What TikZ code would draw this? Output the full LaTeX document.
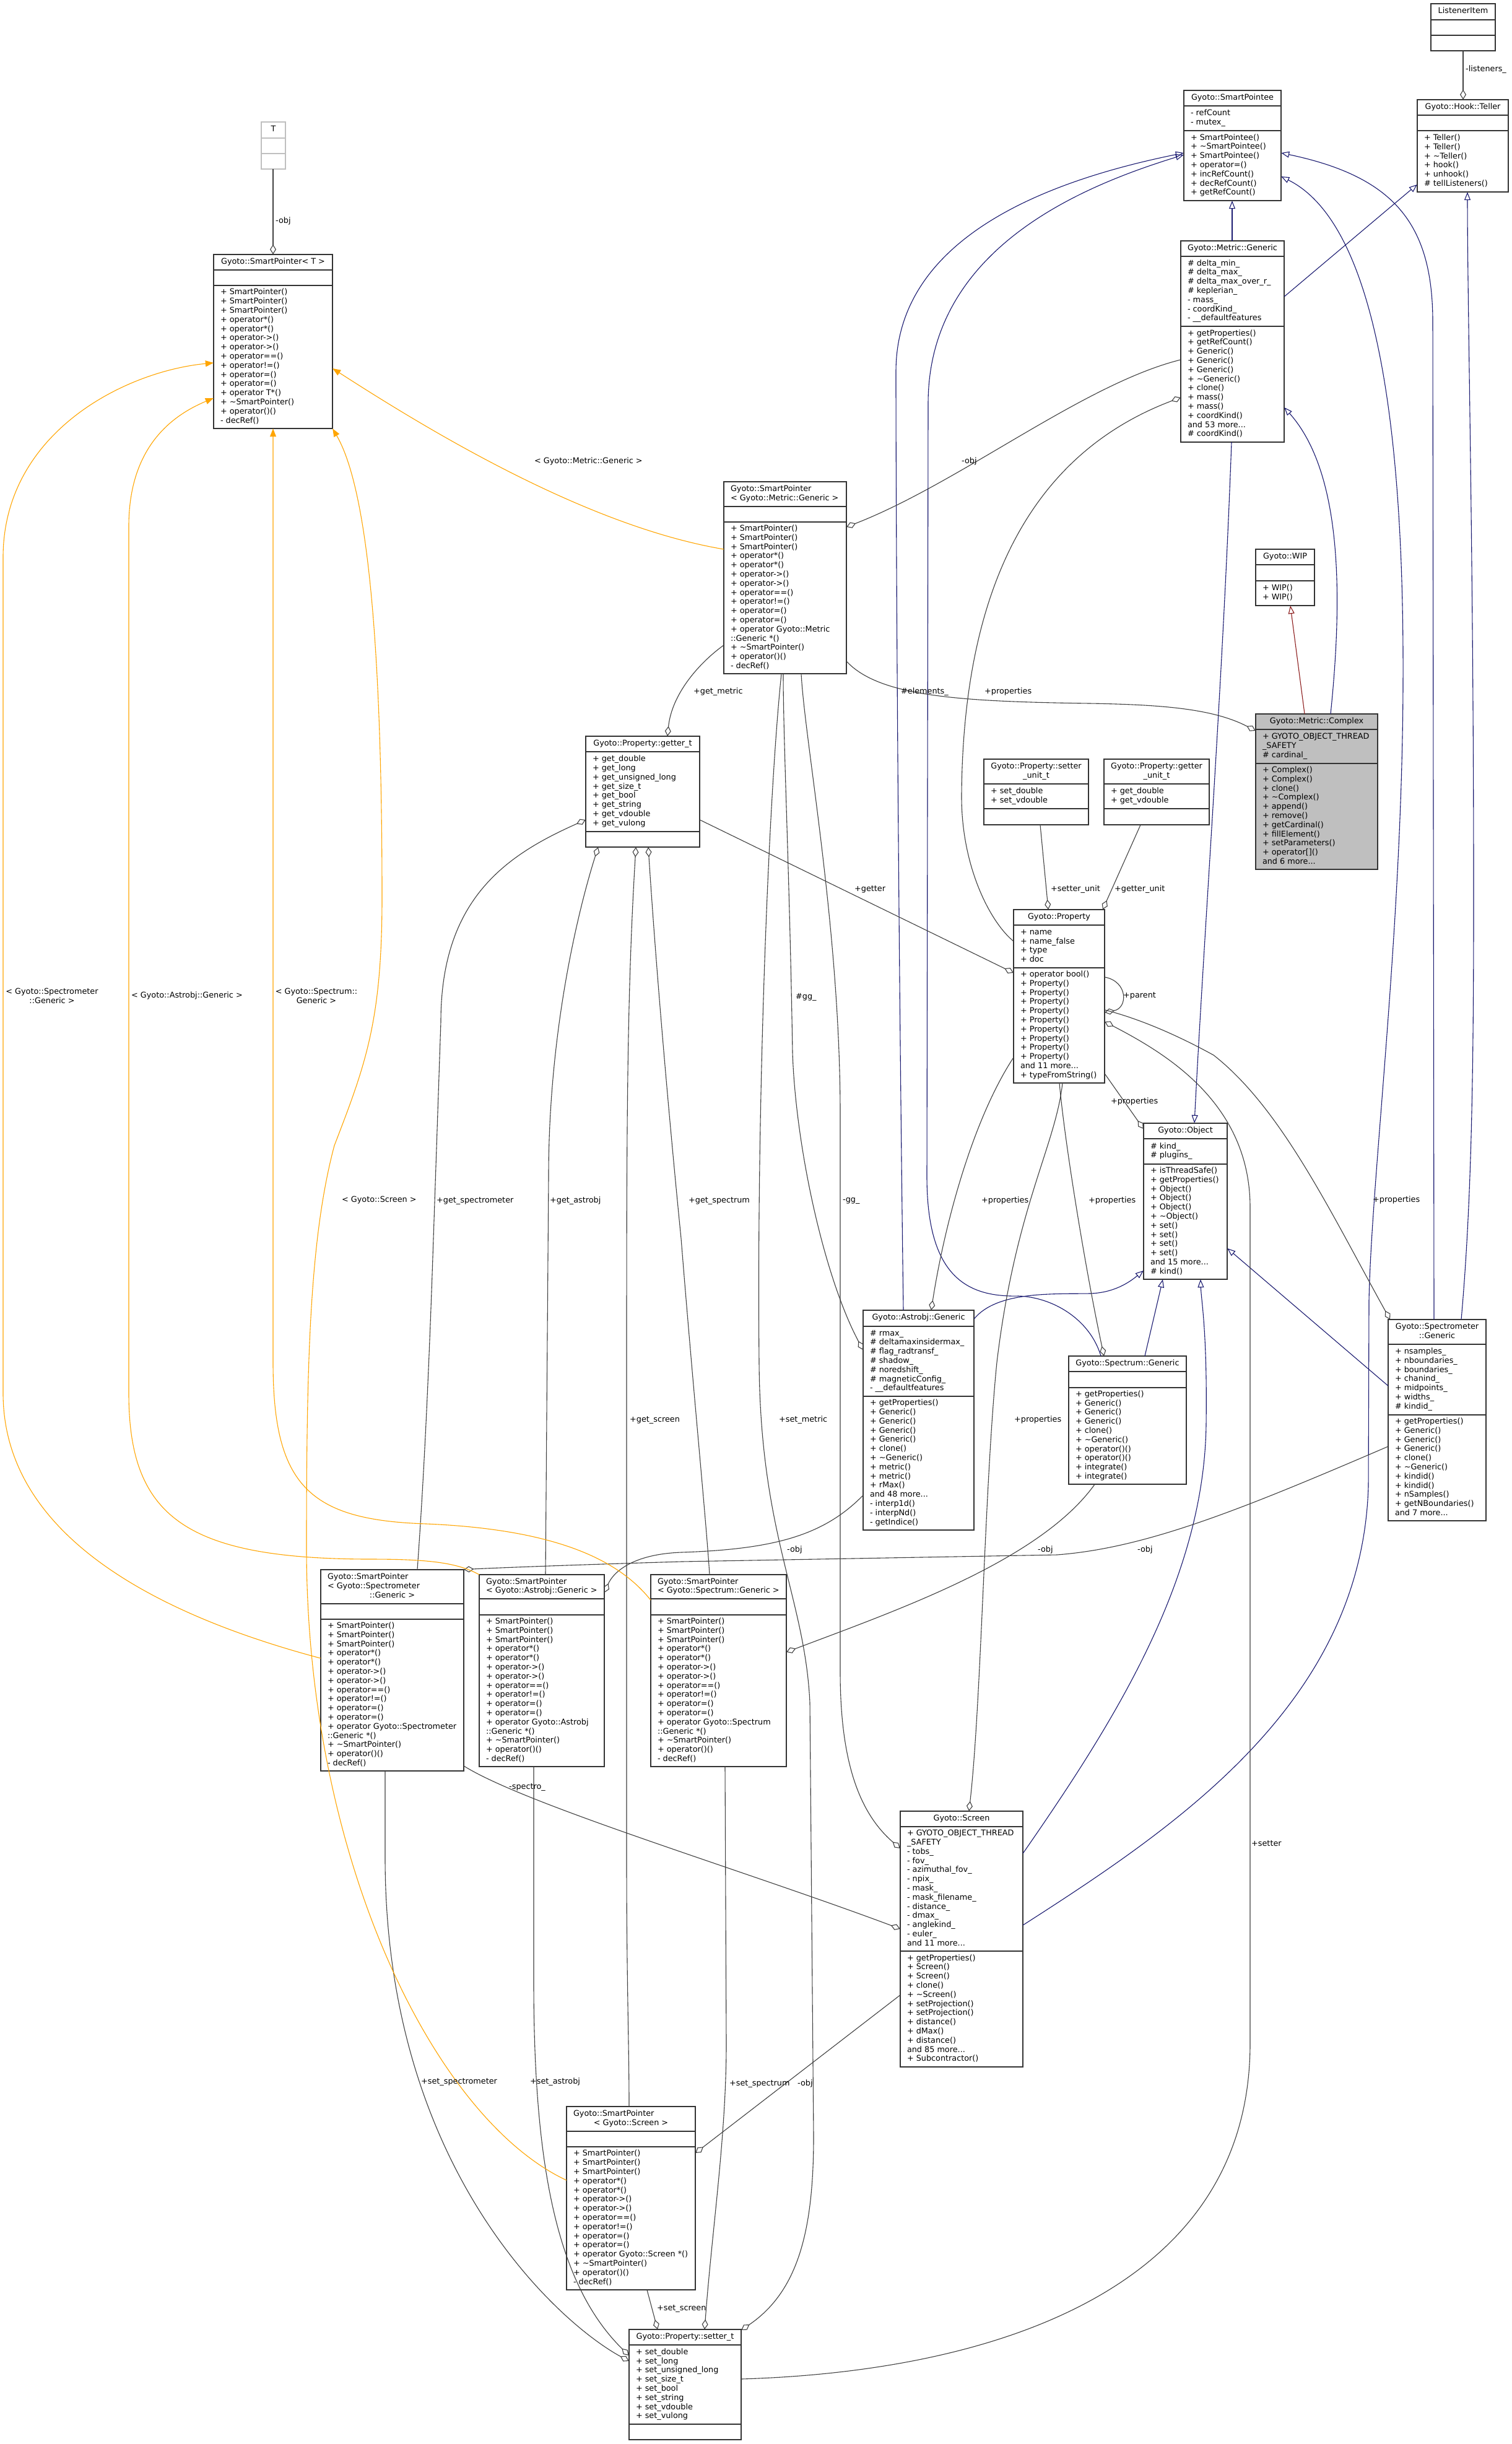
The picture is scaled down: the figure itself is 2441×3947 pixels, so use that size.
\documentclass[tikz,border=0pt]{standalone}
\usepackage{fontspec}
\setmainfont{DejaVu Sans}
\usetikzlibrary{arrows.meta,fit}
\definecolor{inhc}{HTML}{191970}
\definecolor{usec}{HTML}{404040}
\definecolor{tplc}{HTML}{FFA500}
\definecolor{prvc}{HTML}{8B1A1A}
\definecolor{bordc}{HTML}{333333}
\definecolor{selc}{HTML}{BFBFBF}
\newcommand\Ll[1]{\hbox to\hsize{\strut#1\hss}}
\newcommand\Lc[1]{\hbox to\hsize{\hss\strut#1\hss}}
\def\umlgeom#1/#2/#3/#4/#5/#6\relax{\def\ux{#1}\def\uy{#2}\def\uX{#3}\def\ud{#4}\def\uD{#5}\def\uY{#6}}
\newcommand\umlclass[6][]{%
  \umlgeom#3\relax
  \pgfmathsetmacro\uw{\uX-\ux-22}%
  \pgfmathsetmacro\umx{(\ux+\uX)/2}%
  \pgfmathsetmacro\uta{(\uy+\ud)/2}%
  \pgfmathsetmacro\utb{(\ud+\uD)/2}%
  \pgfmathsetmacro\utc{(\uD+\uY)/2}%
  \path[classbox,#1] (\ux,\uy) rectangle (\uX,\uY);
  \draw[classbox,#1,fill=none] (\ux,\ud) -- (\uX,\ud) (\ux,\uD) -- (\uX,\uD);
  \node[fit={(\ux,\uy) (\uX,\uY)}, inner sep=0pt] (#2) {};
  \node[ctext] (#2-t) at (\umx,\uta) {\vbox{\hsize=\uw pt #4}};
  \node[ctext] (#2-a) at (\umx,\utb) {\vbox{\hsize=\uw pt #5}};
  \node[ctext] (#2-m) at (\umx,\utc) {\vbox{\hsize=\uw pt #6}};
}
\newcommand\spHead{\Ll{+ SmartPointer()}\Ll{+ SmartPointer()}\Ll{+ SmartPointer()}\Ll{+ operator*()}\Ll{+ operator*()}\Ll{+ operator->()}\Ll{+ operator->()}\Ll{+ operator==()}\Ll{+ operator!=()}\Ll{+ operator=()}\Ll{+ operator=()}}
\newcommand\spTail{\Ll{+ \textasciitilde SmartPointer()}\Ll{+ operator()()}\Ll{- decRef()}}
\begin{document}
\begin{tikzpicture}[x=1pt,y=-1pt,
  classbox/.style={draw=bordc, fill=white, line width=1.2pt},
  ctext/.style={inner sep=0pt, font=\fontsize{12.8}{14.8}\selectfont},
  lbl/.style={inner sep=0pt, anchor=west, font=\fontsize{12.8}{14.8}\selectfont},
  inh/.style={draw=inhc, line width=1.1pt, -{Triangle[open, length=13pt, width=10pt]}},
  prv/.style={draw=prvc, line width=1.1pt, -{Triangle[open, length=13pt, width=10pt]}},
  agg/.style={draw=usec, line width=1.1pt, {Diamond[open, length=16pt, width=10pt]}-},
  tpl/.style={draw=tplc, line width=1.1pt, -{Triangle[length=13pt, width=10pt]}}]
\fill[white] (0,0) rectangle (2441,3947);
\useasboundingbox (0,0) rectangle (2441,3947);

% ---------------- classes ----------------
\umlclass{li}{2311/6/2415/32/57/82}{\Lc{ListenerItem}}{}{}
\umlclass{tel}{2289/161/2436/186/211/310}{\Lc{Gyoto::Hook::Teller}}{}{\Ll{+ Teller()}\Ll{+ Teller()}\Ll{+ \textasciitilde Teller()}\Ll{+ hook()}\Ll{+ unhook()}\Ll{\# tellListeners()}}
\umlclass{spee}{1912/146/2069/171/211/324}{\Lc{Gyoto::SmartPointee}}{\Ll{- refCount}\Ll{- mutex\_}}{\Ll{+ SmartPointee()}\Ll{+ \textasciitilde SmartPointee()}\Ll{+ SmartPointee()}\Ll{+ operator=()}\Ll{+ incRefCount()}\Ll{+ decRefCount()}\Ll{+ getRefCount()}}
\umlclass[draw=selc]{T}{422/197/461/223/248/273}{\Lc{T}}{}{}
\umlclass{spT}{345/411/537/436/461/692}{\Lc{Gyoto::SmartPointer< T >}}{}{\spHead\Ll{+ operator T*()}\spTail}
\umlclass{mg}{1907/389/2074/414/527/714}{\Lc{Gyoto::Metric::Generic}}{\Ll{\# delta\_min\_}\Ll{\# delta\_max\_}\Ll{\# delta\_max\_over\_r\_}\Ll{\# keplerian\_}\Ll{- mass\_}\Ll{- coordKind\_}\Ll{- \_\_defaultfeatures}}{\Ll{+ getProperties()}\Ll{+ getRefCount()}\Ll{+ Generic()}\Ll{+ Generic()}\Ll{+ Generic()}\Ll{+ \textasciitilde Generic()}\Ll{+ clone()}\Ll{+ mass()}\Ll{+ mass()}\Ll{+ coordKind()}\Ll{and 53 more...}\Ll{\# coordKind()}}
\umlclass{spm}{1169/778/1367/818/843/1088}{\Ll{Gyoto::SmartPointer}\Ll{< Gyoto::Metric::Generic >}}{}{\spHead\Ll{+ operator Gyoto::Metric}\Ll{::Generic *()}\spTail}
\umlclass{wip}{2028/887/2123/912/938/978}{\Lc{Gyoto::WIP}}{}{\Ll{+ WIP()}\Ll{+ WIP()}}
\umlclass[fill=selc]{mc}{2028/1153/2225/1178/1233/1404}{\Lc{Gyoto::Metric::Complex}}{\Ll{+ GYOTO\_OBJECT\_THREAD}\Ll{\_SAFETY}\Ll{\# cardinal\_}}{\Ll{+ Complex()}\Ll{+ Complex()}\Ll{+ clone()}\Ll{+ \textasciitilde Complex()}\Ll{+ append()}\Ll{+ remove()}\Ll{+ getCardinal()}\Ll{+ fillElement()}\Ll{+ setParameters()}\Ll{+ operator[]()}\Ll{and 6 more...}}
\umlclass{gt}{946/1189/1130/1214/1343/1368}{\Lc{Gyoto::Property::getter\_t}}{\Ll{+ get\_double}\Ll{+ get\_long}\Ll{+ get\_unsigned\_long}\Ll{+ get\_size\_t}\Ll{+ get\_bool}\Ll{+ get\_string}\Ll{+ get\_vdouble}\Ll{+ get\_vulong}}{}
\umlclass{sut}{1589/1226/1758/1266/1306/1332}{\Lc{Gyoto::Property::setter}\Lc{\_unit\_t}}{\Ll{+ set\_double}\Ll{+ set\_vdouble}}{}
\umlclass{gut}{1783/1226/1953/1266/1306/1332}{\Lc{Gyoto::Property::getter}\Lc{\_unit\_t}}{\Ll{+ get\_double}\Ll{+ get\_vdouble}}{}
\umlclass{prop}{1637/1469/1784/1494/1563/1749}{\Lc{Gyoto::Property}}{\Ll{+ name}\Ll{+ name\_false}\Ll{+ type}\Ll{+ doc}}{\Ll{+ operator bool()}\Ll{+ Property()}\Ll{+ Property()}\Ll{+ Property()}\Ll{+ Property()}\Ll{+ Property()}\Ll{+ Property()}\Ll{+ Property()}\Ll{+ Property()}\Ll{+ Property()}\Ll{and 11 more...}\Ll{+ typeFromString()}}
\umlclass{obj}{1847/1814/1982/1839/1880/2066}{\Lc{Gyoto::Object}}{\Ll{\# kind\_}\Ll{\# plugins\_}}{\Ll{+ isThreadSafe()}\Ll{+ getProperties()}\Ll{+ Object()}\Ll{+ Object()}\Ll{+ Object()}\Ll{+ \textasciitilde Object()}\Ll{+ set()}\Ll{+ set()}\Ll{+ set()}\Ll{+ set()}\Ll{and 15 more...}\Ll{\# kind()}}
\umlclass{ag}{1394/2116/1573/2142/2255/2471}{\Lc{Gyoto::Astrobj::Generic}}{\Ll{\# rmax\_}\Ll{\# deltamaxinsidermax\_}\Ll{\# flag\_radtransf\_}\Ll{\# shadow\_}\Ll{\# noredshift\_}\Ll{\# magneticConfig\_}\Ll{- \_\_defaultfeatures}}{\Ll{+ getProperties()}\Ll{+ Generic()}\Ll{+ Generic()}\Ll{+ Generic()}\Ll{+ Generic()}\Ll{+ clone()}\Ll{+ \textasciitilde Generic()}\Ll{+ metric()}\Ll{+ metric()}\Ll{+ rMax()}\Ll{and 48 more...}\Ll{- interp1d()}\Ll{- interpNd()}\Ll{- getIndice()}}
\umlclass{sg}{1726/2190/1916/2215/2241/2397}{\Lc{Gyoto::Spectrum::Generic}}{}{\Ll{+ getProperties()}\Ll{+ Generic()}\Ll{+ Generic()}\Ll{+ Generic()}\Ll{+ clone()}\Ll{+ \textasciitilde Generic()}\Ll{+ operator()()}\Ll{+ operator()()}\Ll{+ integrate()}\Ll{+ integrate()}}
\umlclass{smg}{2242/2131/2400/2171/2285/2456}{\Lc{Gyoto::Spectrometer}\Lc{::Generic}}{\Ll{+ nsamples\_}\Ll{+ nboundaries\_}\Ll{+ boundaries\_}\Ll{+ chanind\_}\Ll{+ midpoints\_}\Ll{+ widths\_}\Ll{\# kindid\_}}{\Ll{+ getProperties()}\Ll{+ Generic()}\Ll{+ Generic()}\Ll{+ Generic()}\Ll{+ clone()}\Ll{+ \textasciitilde Generic()}\Ll{+ kindid()}\Ll{+ kindid()}\Ll{+ nSamples()}\Ll{+ getNBoundaries()}\Ll{and 7 more...}}
\umlclass{sps}{518/2535/749/2590/2615/2860}{\Ll{Gyoto::SmartPointer}\Ll{< Gyoto::Spectrometer}\Lc{::Generic >}}{}{\spHead\Ll{+ operator Gyoto::Spectrometer}\Ll{::Generic *()}\spTail}
\umlclass{spa}{774/2543/976/2582/2608/2853}{\Ll{Gyoto::SmartPointer}\Ll{< Gyoto::Astrobj::Generic >}}{}{\spHead\Ll{+ operator Gyoto::Astrobj}\Ll{::Generic *()}\spTail}
\umlclass{spsp}{1051/2543/1270/2582/2608/2853}{\Ll{Gyoto::SmartPointer}\Ll{< Gyoto::Spectrum::Generic >}}{}{\spHead\Ll{+ operator Gyoto::Spectrum}\Ll{::Generic *()}\spTail}
\umlclass{scr}{1454/2925/1652/2950/3151/3338}{\Lc{Gyoto::Screen}}{\Ll{+ GYOTO\_OBJECT\_THREAD}\Ll{\_SAFETY}\Ll{- tobs\_}\Ll{- fov\_}\Ll{- azimuthal\_fov\_}\Ll{- npix\_}\Ll{- mask\_}\Ll{- mask\_filename\_}\Ll{- distance\_}\Ll{- dmax\_}\Ll{- anglekind\_}\Ll{- euler\_}\Ll{and 11 more...}}{\Ll{+ getProperties()}\Ll{+ Screen()}\Ll{+ Screen()}\Ll{+ clone()}\Ll{+ \textasciitilde Screen()}\Ll{+ setProjection()}\Ll{+ setProjection()}\Ll{+ distance()}\Ll{+ dMax()}\Ll{+ distance()}\Ll{and 85 more...}\Ll{+ Subcontractor()}}
\umlclass{spscr}{915/3402/1123/3442/3467/3698}{\Ll{Gyoto::SmartPointer}\Lc{< Gyoto::Screen >}}{}{\spHead\Ll{+ operator Gyoto::Screen *()}\spTail}
\umlclass{st}{1016/3762/1197/3787/3915/3940}{\Lc{Gyoto::Property::setter\_t}}{\Ll{+ set\_double}\Ll{+ set\_long}\Ll{+ set\_unsigned\_long}\Ll{+ set\_size\_t}\Ll{+ set\_bool}\Ll{+ set\_string}\Ll{+ set\_vdouble}\Ll{+ set\_vulong}}{}

% ---------------- inheritance ----------------
\draw[inh] (1990,0 |- mg.north) -- (1990,0 |- spee.south);
\draw[inh] (mg.east |- 0,479) -- (tel.west |- 0,298);
\draw[inh] (2316,0 |- smg.north) -- (2314,520) .. controls (2314,360) and (2250,285) .. (spee.east |- 0,247);
\draw[inh] (2360,0 |- smg.north) .. controls (2376,1950) and (2380,1750) .. (2380,1450) .. controls (2380,900) and (2370,500) .. (2370,0 |- tel.south);
\draw[inh] (scr.east |- 0,3109) .. controls (1900,2950) and (2200,2750) .. (2210,2400) -- (2211,2100) .. controls (2215,1900) and (2265,1500) .. (2266,1100) .. controls (2268,600) and (2200,350) .. (spee.east |- 0,285);
\draw[inh] (scr.east |- 0,2993) .. controls (1800,2780) and (1945,2550) .. (1948,2300) .. controls (1950,2150) and (1940,2100) .. (1939,0 |- obj.south);
\draw[prv] (2107,0 |- mc.north) -- (2084,0 |- wip.south);
\draw[inh] (2149,0 |- mc.north) .. controls (2170,950) and (2165,760) .. (mg.east |- 0,658);
\draw[inh] (1989,0 |- mg.south) .. controls (1975,1100) and (1945,1500) .. (1929,0 |- obj.north);
\draw[inh] (ag.east |- 0,2130) .. controls (1610,2085) and (1700,2090) .. (1760,2089) .. controls (1800,2088) and (1825,2070) .. (obj.west |- 0,2052);
\draw[inh] (1849,0 |- sg.north) -- (1878,0 |- obj.south);
\draw[inh] (smg.west |- 0,2238) -- (obj.east |- 0,2016);
\draw[inh] (1459,0 |- ag.north) .. controls (1452,1600) and (1447,900) .. (1447,600) .. controls (1447,380) and (1700,290) .. (spee.west |- 0,247);
\draw[inh] (1778,0 |- sg.north) .. controls (1760,2130) and (1700,2095) .. (1645,2093) .. controls (1560,2095) and (1497,2060) .. (1497,1900) -- (1499,650) .. controls (1500,400) and (1750,300) .. (spee.west |- 0,250);

% ---------------- usage ----------------
\draw[agg] (2363,0 |- tel.north) -- (2363,0 |- li.south);
\draw[agg] (441,0 |- spT.north) -- (441,0 |- T.south);
\draw[agg] (spm.east |- 0,851) .. controls (1550,780) and (1750,620) .. (mg.west |- 0,581);
\draw[agg] (mc.west |- 0,1180) .. controls (1960,1145) and (1880,1138) .. (1760,1136) .. controls (1550,1133) and (1420,1125) .. (spm.east |- 0,1068);
\draw[agg] (mg.west |- 0,642) .. controls (1700,720) and (1556,900) .. (1553,1283) .. controls (1552,1400) and (1600,1490) .. (prop.west |- 0,1520);
\draw[agg] (1078,0 |- gt.north) .. controls (1085,1120) and (1130,1070) .. (spm.west |- 0,1042);
\draw[agg] (prop.west |- 0,1571) -- (gt.east |- 0,1324);
\draw[agg] (1693,0 |- prop.north) -- (1680,0 |- sut.south);
\draw[agg] (1781,0 |- prop.north) -- (1842,0 |- gut.south);
\draw[agg] (prop.east |- 0,1635) .. controls (1822,1628) and (1822,1585) .. (prop.east |- 0,1578);
\draw[agg] (obj.west |- 0,1823) -- (prop.east |- 0,1734);
\draw[agg] (2245,0 |- smg.north) .. controls (2150,1960) and (2070,1790) .. (1960,1704) .. controls (1880,1660) and (1820,1640) .. (prop.east |- 0,1631);
\draw[agg] (1504,0 |- ag.north) .. controls (1525,1980) and (1570,1810) .. (prop.west |- 0,1708);
\draw[agg] (1783,0 |- sg.north) .. controls (1755,2060) and (1720,1850) .. (1711,0 |- prop.south);
\draw[agg] (1565,0 |- scr.north) .. controls (1585,2750) and (1590,2400) .. (1610,2200) .. controls (1640,1950) and (1705,1850) .. (1716,0 |- prop.south);
\draw[agg] (prop.east |- 0,1650) .. controls (1880,1700) and (2019,1780) .. (2019,1950) -- (2019,3300) .. controls (2019,3700) and (1600,3830) .. (st.east |- 0,3842);
\draw[agg] (ag.west |- 0,2180) .. controls (1330,2060) and (1285,1850) .. (1280,1700) .. controls (1275,1400) and (1265,1200) .. (1265,0 |- spm.south);
\draw[agg] (scr.west |- 0,2985) .. controls (1390,2930) and (1357,2850) .. (1357,2700) -- (1357,1800) .. controls (1357,1500) and (1300,1200) .. (1294,0 |- spm.south);
\draw[agg] (st.east |- 0,3763) .. controls (1290,3700) and (1314,3600) .. (1314,3450) -- (1308,2750) .. controls (1300,2580) and (1228,2480) .. (1226,2200) .. controls (1222,1800) and (1240,1300) .. (1262,0 |- spm.south);
\draw[agg] (gt.west |- 0,1324) .. controls (820,1380) and (712,1450) .. (712,1650) -- (700,2000) .. controls (690,2300) and (680,2450) .. (674,0 |- sps.north);
\draw[agg] (966,0 |- gt.south) .. controls (940,1450) and (886,1650) .. (886,1900) -- (881,0 |- spa.north);
\draw[agg] (1027,0 |- gt.south) .. controls (1013,1600) and (1012,1800) .. (1012,2200) -- (1012,3000) .. controls (1012,3200) and (1016,3300) .. (1016,0 |- spscr.north);
\draw[agg] (1047,0 |- gt.south) .. controls (1062,1600) and (1085,1850) .. (1100,2000) .. controls (1120,2250) and (1140,2450) .. (1146,0 |- spsp.north);
\draw[agg] (spa.east |- 0,2572) .. controls (990,2540) and (1020,2510) .. (1100,2507) .. controls (1250,2502) and (1330,2480) .. (ag.west |- 0,2415);
\draw[agg] (spsp.east |- 0,2668) .. controls (1450,2600) and (1680,2520) .. (1768,0 |- sg.south);
\draw[agg] (sps.north east) .. controls (780,2533) and (900,2528) .. (1100,2522) -- (1707,2511) .. controls (1850,2500) and (2000,2440) .. (smg.west |- 0,2336);
\draw[agg] (spscr.east |- 0,3477) -- (scr.west |- 0,3222);
\draw[agg] (scr.west |- 0,3115) .. controls (1200,3020) and (850,2915) .. (sps.east |- 0,2852);
\draw[agg] (1138,0 |- st.north) .. controls (1150,3600) and (1173,3450) .. (1173,3300) -- (1171,0 |- spsp.south);
\draw[agg] (1062,0 |- st.north) -- (1045,0 |- spscr.south);
\draw[agg] (st.west |- 0,3813) .. controls (900,3750) and (622,3500) .. (622,3000) -- (622,0 |- sps.south);
\draw[agg] (st.west |- 0,3804) .. controls (900,3690) and (862,3500) .. (862,3200) -- (862,0 |- spa.south);

% ---------------- template instances ----------------
\draw[tpl] (sps.west |- 0,2678) .. controls (300,2620) and (5,2500) .. (5,2250) -- (5,900) .. controls (5,700) and (200,600) .. (spT.west |- 0,586);
\draw[tpl] (spa.north west) .. controls (740,2525) and (700,2518) .. (600,2518) .. controls (300,2518) and (208,2450) .. (208,2250) -- (208,850) .. controls (208,720) and (280,670) .. (spT.west |- 0,643);
\draw[tpl] (spsp.west |- 0,2584) .. controls (1000,2520) and (900,2470) .. (689,2461) .. controls (500,2455) and (441,2400) .. (441,2200) -- (441,0 |- spT.south);
\draw[tpl] (spscr.west |- 0,3521) .. controls (700,3420) and (495,3000) .. (495,2500) .. controls (495,2200) and (500,2000) .. (540,1850) .. controls (590,1720) and (617,1650) .. (617,1450) .. controls (617,1100) and (600,800) .. (spT.south east);
\draw[tpl] (spm.west |- 0,887) .. controls (950,850) and (700,700) .. (spT.east |- 0,595);

% ---------------- labels ----------------
\node[lbl] (l1) at (2367,112) {-listeners\_};
\node[lbl] (l2) at (445,357) {-obj};
\node[lbl] (l3) at (1553,745) {-obj};
\node[lbl] (l4) at (863,745) {< Gyoto::Metric::Generic >};
\node[lbl] (l5) at (1455,1117) {\#elements\_};
\node[lbl] (l6) at (1590,1117) {+properties};
\node[lbl] (l7) at (1120,1117) {+get\_metric};
\node[lbl] (l8) at (1380,1436) {+getter};
\node[lbl] (l9) at (1697,1436) {+setter\_unit};
\node[lbl] (l10) at (1800,1436) {+getter\_unit};
\node[lbl] (l11) at (1814,1608) {+parent};
\node[lbl] (l12) at (1285,1610) {\#gg\_};
\node[lbl, anchor=center, align=center] (l13) at (84,1608) {< Gyoto::Spectrometer\\::Generic >};
\node[lbl] (l14) at (212,1608) {< Gyoto::Astrobj::Generic >};
\node[lbl, anchor=center, align=center] (l15) at (511,1608) {< Gyoto::Spectrum::\\Generic >};
\node[lbl] (l16) at (1794,1779) {+properties};
\node[lbl] (l17) at (552,1938) {< Gyoto::Screen >};
\node[lbl] (l18) at (705,1939) {+get\_spectrometer};
\node[lbl] (l19) at (888,1939) {+get\_astrobj};
\node[lbl] (l20) at (1112,1939) {+get\_spectrum};
\node[lbl] (l21) at (1361,1939) {-gg\_};
\node[lbl] (l22) at (1585,1939) {+properties};
\node[lbl] (l23) at (1758,1939) {+properties};
\node[lbl] (l24) at (2217,1938) {+properties};
\node[lbl] (l25) at (1017,2293) {+get\_screen};
\node[lbl] (l26) at (1258,2293) {+set\_metric};
\node[lbl] (l27) at (1638,2293) {+properties};
\node[lbl] (l28) at (1271,2503) {-obj};
\node[lbl] (l29) at (1676,2503) {-obj};
\node[lbl] (l30) at (1837,2503) {-obj};
\node[lbl] (l31) at (822,2886) {-spectro\_};
\node[lbl] (l32) at (2021,2977) {+setter};
\node[lbl] (l33) at (680,3362) {+set\_spectrometer};
\node[lbl] (l34) at (856,3362) {+set\_astrobj};
\node[lbl] (l35) at (1178,3365) {+set\_spectrum};
\node[lbl] (l36) at (1288,3365) {-obj};
\node[lbl] (l37) at (1061,3728) {+set\_screen};
\end{tikzpicture}
\end{document}
